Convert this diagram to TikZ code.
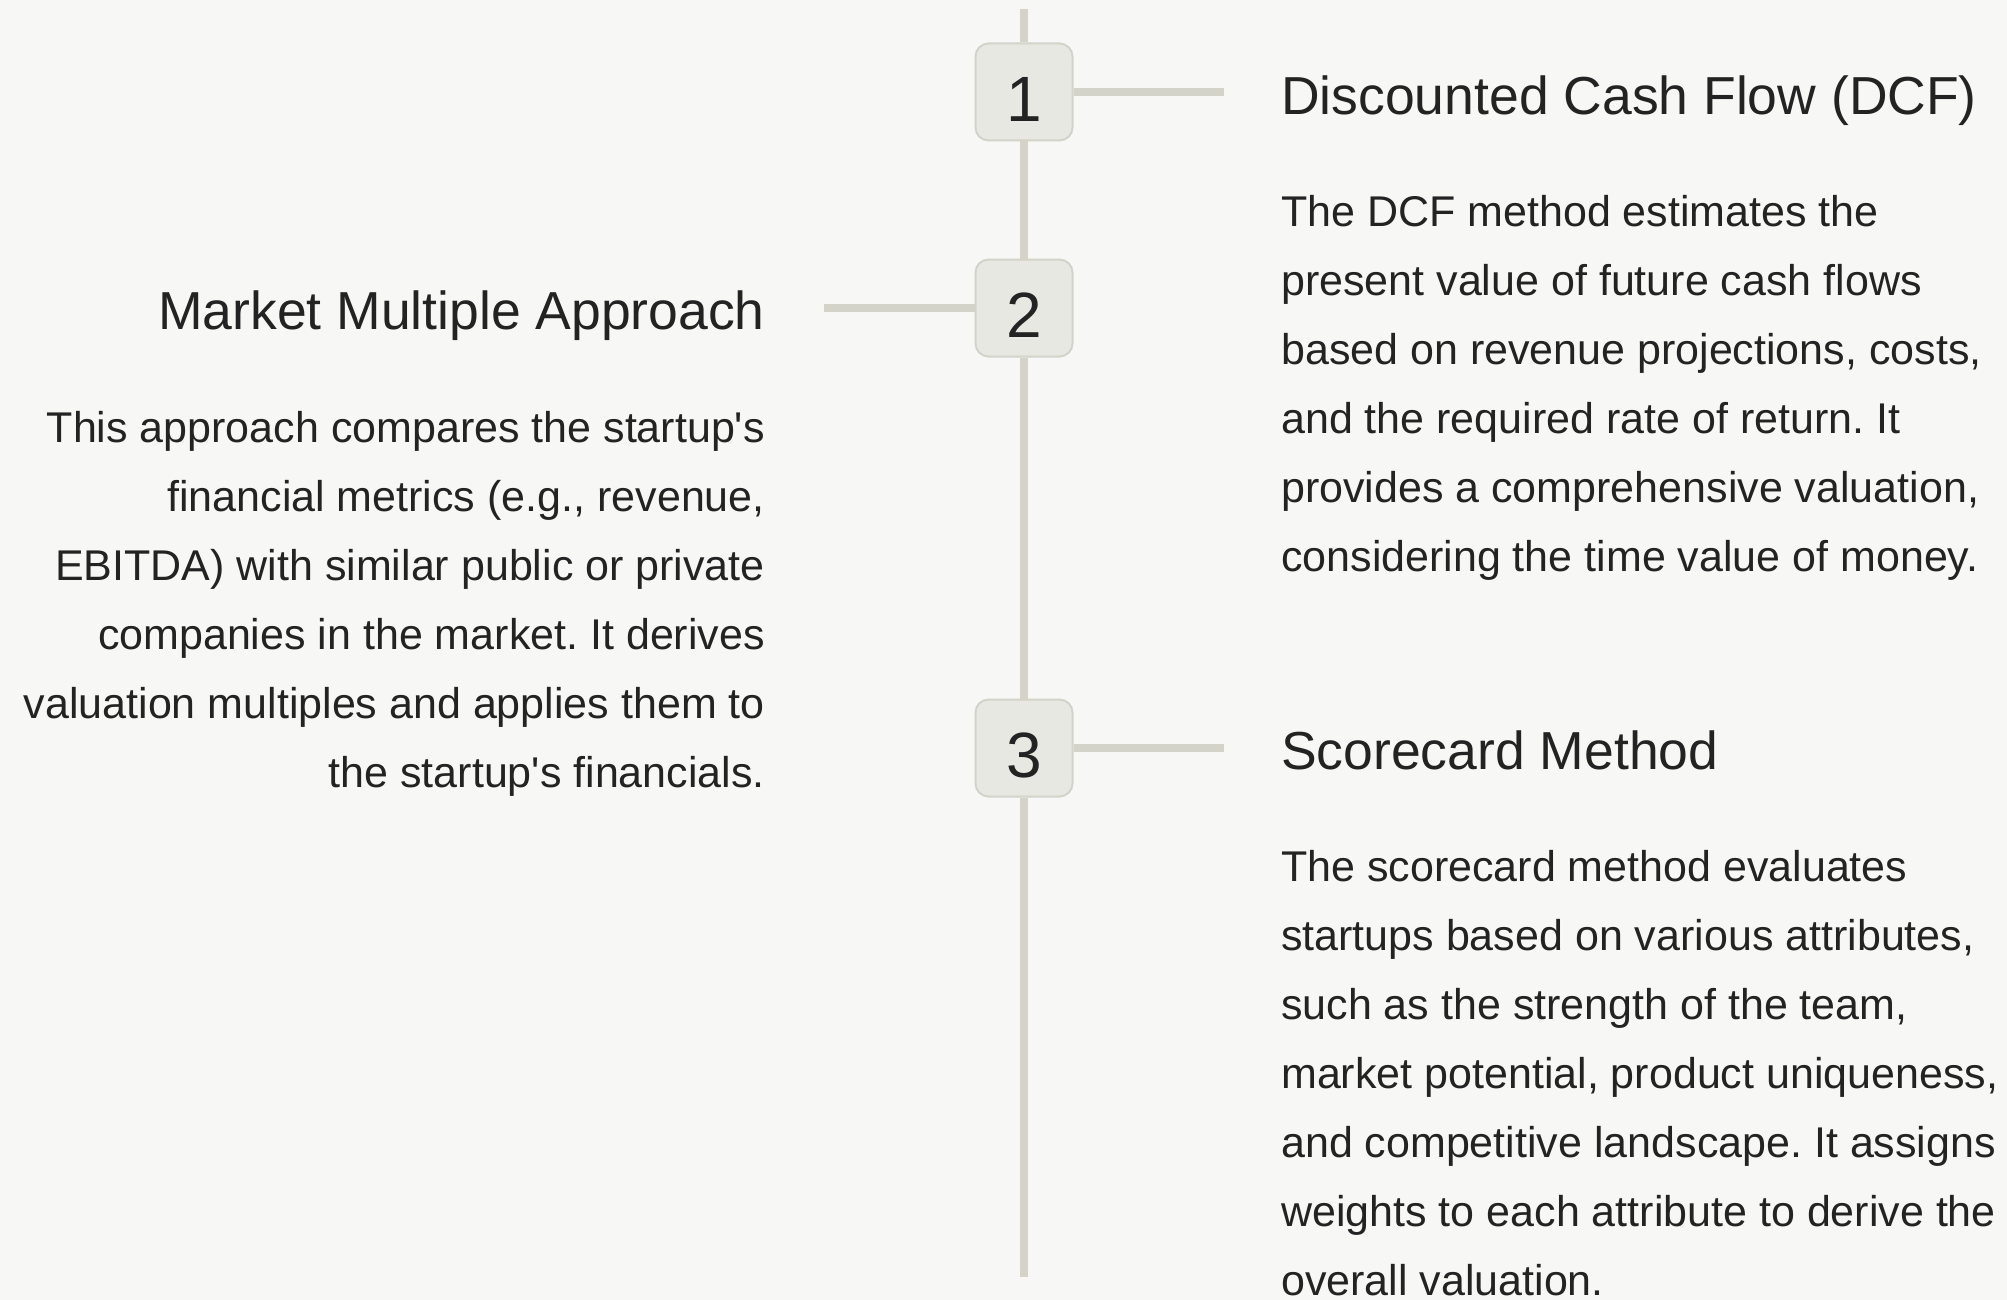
\documentclass[tikz,border=0pt]{standalone}
\usepackage{fontspec}
\setmainfont{Liberation Sans}
\usepackage{tikz}
\frenchspacing

\definecolor{pagebg}{HTML}{F7F7F5}
\definecolor{rail}{HTML}{D3D3CA}
\definecolor{stepfill}{HTML}{E8E8E3}
\definecolor{ink}{HTML}{232323}

\begin{document}
\begin{tikzpicture}[x=1pt,y=-1pt,
  rail/.style={draw=rail,line width=8pt},
  stepbox/.style={draw=rail,fill=stepfill,line width=2pt,rounded corners=13pt,
    minimum size=97pt,inner sep=0pt,text=ink,
    font={\fontsize{64}{64}\selectfont},text height=59pt,text depth=0pt},
  head/.style={inner sep=0pt,text=ink,font={\fontsize{53.5}{60}\selectfont}},
  body/.style={inner sep=0pt,text=ink,font={\fontsize{43}{69}\selectfont}}]
\fill[pagebg] (0,0) rectangle (2007,1300);
\useasboundingbox (0,0) rectangle (2007,1300);

\coordinate (top) at (1024,9);
\coordinate (bot) at (1024,1277);
\node [stepbox] (s1) at (1024,92) {1};
\node [stepbox] (s2) at (1024,308) {2};
\node [stepbox] (s3) at (1024,748) {3};
\draw [rail] (top) -- (s1) -- (s2) -- (s3) -- (bot);

\coordinate (e1) at (1224,92);
\coordinate (e2) at (824,308);
\coordinate (e3) at (1224,748);
\draw [rail] (s1.east) -- (e1);
\draw [rail] (e2) -- (s2.west);
\draw [rail] (s3.east) -- (e3);

% multi-line nodes sit on the baseline of their last line
\node [head,anchor=base west] (dcf) at (1281,115) {Discounted Cash Flow (DCF)};
\node [body,anchor=base west,align=left] (dcftext) at (1281,571)
  {The DCF method estimates the\\
   present value of future cash flows\\
   based on revenue projections, costs,\\
   and the required rate of return. It\\
   provides a comprehensive valuation,\\
   considering the time value of money.};

\node [head,anchor=base east] (mma) at (765,329) {Market Multiple Approach};
\node [body,anchor=base east,align=right] (mmatext) at (765,787)
  {This approach compares the startup\textquotesingle s\\
   financial metrics (e.g., revenue,\\
   EBITDA) with similar public or private\\
   companies in the market. It derives\\
   valuation multiples and applies them to\\
   the startup\textquotesingle s financials.};

\node [head,anchor=base west] (score) at (1281,769) {Scorecard Method};
\node [body,anchor=base west,align=left] (scoretext) at (1281,1295)
  {The scorecard method evaluates\\
   startups based on various attributes,\\
   such as the strength of the team,\\
   market potential, product uniqueness,\\
   and competitive landscape. It assigns\\
   weights to each attribute to derive the\\
   overall valuation.};
\end{tikzpicture}
\end{document}
